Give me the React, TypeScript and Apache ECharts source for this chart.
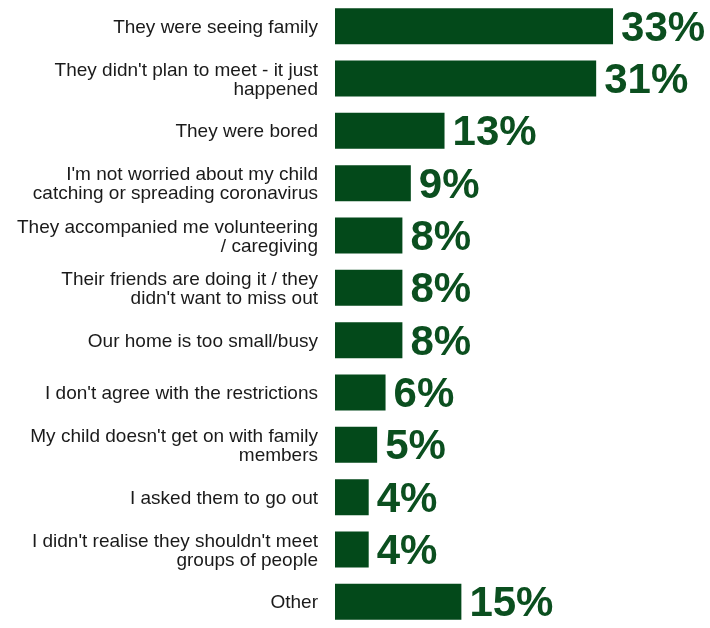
import React, { useEffect, useRef } from "react";
import * as echarts from "echarts";

const categories = [
  "They were seeing family",
  "They didn't plan to meet - it just\nhappened",
  "They were bored",
  "I'm not worried about my child\ncatching or spreading coronavirus",
  "They accompanied me volunteering\n/ caregiving",
  "Their friends are doing it / they\ndidn't want to miss out",
  "Our home is too small/busy",
  "I don't agree with the restrictions",
  "My child doesn't get on with family\nmembers",
  "I asked them to go out",
  "I didn't realise they shouldn't meet\ngroups of people",
  "Other",
];
const values = [33, 31, 13, 9, 8, 8, 8, 6, 5, 4, 4, 15];

export default function App() {
  const ref = useRef<HTMLDivElement>(null);
  useEffect(() => {
    const chart = echarts.init(ref.current!, null, { renderer: "svg" });
    chart.setOption({
      animation: false,
      grid: { left: 335, top: -1.5, width: 337, height: 636 },
      xAxis: {
        type: "value",
        min: 0,
        max: 40,
        show: false,
      },
      yAxis: {
        type: "category",
        data: categories,
        inverse: true,
        axisLine: { show: false },
        axisTick: { show: false },
        axisLabel: {
          margin: 17,
          fontFamily: "'Liberation Sans', Arial, sans-serif",
          fontSize: 19,
          lineHeight: 19,
          color: "#1a1a1a",
          align: "right",
        },
      },
      series: [
        {
          type: "bar",
          data: values,
          barWidth: 36,
          itemStyle: { color: "#03491a" },
          label: {
            show: true,
            position: "right",
            distance: 8,
            formatter: "{c}%",
            fontFamily: "'Liberation Sans', Arial, sans-serif",
            fontWeight: "bold",
            fontSize: 42,
            color: "#0b4f1f",
          },
        },
      ],
    });
    return () => chart.dispose();
  }, []);
  return (
    <div
      ref={ref}
      style={{ position: "fixed", left: 0, top: 0, width: 710, height: 628 }}
    />
  );
}
